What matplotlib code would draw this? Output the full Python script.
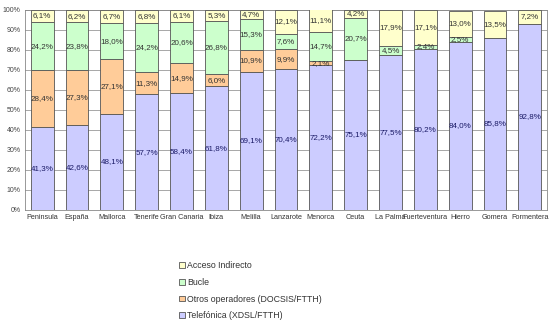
import numpy as np
import matplotlib
matplotlib.use("Agg")
import matplotlib.pyplot as plt

plt.rcParams['font.family'] = ['Liberation Sans', 'DejaVu Sans']

# --- datos ---
regiones = ['Peninsula', 'España', 'Mallorca', 'Tenerife', 'Gran Canaria', 'Ibiza',
            'Melilla', 'Lanzarote', 'Menorca', 'Ceuta', 'La Palma', 'Fuerteventura',
            'Hierro', 'Gomera', 'Formentera']
telefonica = [41.3, 42.6, 48.1, 57.7, 58.4, 61.8, 69.1, 70.4, 72.2, 75.1, 77.5, 80.2, 84.0, 85.8, 92.8]
otros = [28.4, 27.3, 27.1, 11.3, 14.9, 6.0, 10.9, 9.9, 2.1, 0, 0, 0, 0, 0, 0]
bucle = [24.2, 23.8, 18.0, 24.2, 20.6, 26.8, 15.3, 7.6, 14.7, 20.7, 4.5, 2.4, 2.5, 0, 0]
acceso = [6.1, 6.2, 6.7, 6.8, 6.1, 5.3, 4.7, 12.1, 11.1, 4.2, 17.9, 17.1, 13.0, 13.5, 7.2]

series = [
    ('Telefónica (XDSL/FTTH)', telefonica, '#CCCCFF', '#1a1a66'),
    ('Otros operadores (DOCSIS/FTTH)', otros, '#FFCC99', '#333333'),
    ('Bucle', bucle, '#CCFFCC', '#333333'),
    ('Acceso Indirecto', acceso, '#FFFFCC', '#333333'),
]

fig = plt.figure(figsize=(5.5, 3.23), dpi=100)
ax = fig.add_axes([0.045, 0.35, 0.95, 0.62])

x = np.arange(len(regiones))
base = np.zeros(len(regiones))
handles = []
for nombre, vals, color, txtcol in series:
    vals = np.array(vals, dtype=float)
    b = ax.bar(x, vals, 0.66, bottom=base, color=color, edgecolor='#555555',
               linewidth=0.6, zorder=3, label=nombre)
    handles.append(b)
    for xi, v, b0 in zip(x, vals, base):
        if v > 0:
            y = b0 + v / 2
            ax.text(xi, y, f'{v:.1f}%'.replace('.', ','), ha='center', va='center',
                    fontsize=5.8, color=txtcol, zorder=4)
    base += vals

ax.set_xlim(-0.5, len(regiones) - 0.5)
ax.set_ylim(0, 100)
ax.set_yticks(np.arange(0, 101, 10))
ax.set_yticklabels([f'{v}%' for v in range(0, 101, 10)], fontsize=5, color='#444444')
ax.set_xticks(x)
ax.set_xticklabels(regiones, fontsize=5.2, color='#333333')
ax.tick_params(length=0, pad=3)
ax.yaxis.grid(True, color='#999999', linewidth=0.6, zorder=0)
for s in ax.spines.values():
    s.set_color('#888888')
    s.set_linewidth(0.6)

leg = fig.legend(handles[::-1], [h.get_label() for h in handles[::-1]],
                 loc='upper left', bbox_to_anchor=(0.318, 0.205), frameon=False,
                 fontsize=6.3, labelspacing=0.88, handlelength=0.6, handleheight=0.6,
                 handletextpad=0.3, borderpad=0)
for t in leg.get_texts():
    t.set_color('#333333')

fig.savefig('out.png', dpi=100)
